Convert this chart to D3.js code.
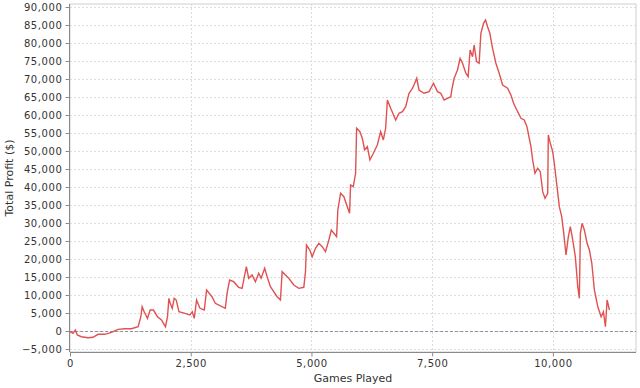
<!DOCTYPE html>
<html><head><meta charset="utf-8">
<script src="https://cdn.jsdelivr.net/npm/d3@7"></script>
<style>
html,body{margin:0;padding:0;background:#fff;}
svg text{font-family:"DejaVu Sans",sans-serif;}
</style></head>
<body><svg id="c" width="640" height="388"></svg>
<script>
const games = [0,62,110,151,234,374,477,581,720,857,996,1135,1272,1411,1467,1494,1536,1604,1660,1728,1811,1894,1977,2019,2048,2075,2117,2158,2200,2256,2380,2484,2532,2573,2621,2691,2781,2828,2940,3009,3113,3216,3252,3305,3389,3492,3563,3611,3652,3700,3770,3839,3907,3957,4032,4082,4150,4218,4289,4358,4393,4461,4530,4633,4737,4841,4876,4897,4965,5015,5084,5152,5223,5291,5360,5410,5464,5520,5546,5603,5671,5742,5789,5810,5866,5914,5935,6003,6053,6101,6157,6210,6281,6364,6433,6488,6536,6572,6640,6744,6812,6883,6951,7020,7090,7123,7180,7227,7331,7435,7526,7609,7678,7746,7817,7885,7906,7954,8024,8078,8128,8196,8244,8285,8335,8368,8418,8472,8508,8563,8605,8647,8694,8750,8819,8887,8958,9061,9130,9186,9269,9338,9406,9462,9510,9545,9580,9628,9684,9738,9788,9836,9892,9904,9946,9995,10028,10085,10132,10182,10224,10271,10319,10361,10410,10464,10514,10547,10568,10603,10651,10707,10755,10805,10858,10929,10998,11045,11087,11122,11170];
const profit = [-200,-640,280,-1110,-1580,-1860,-1750,-920,-920,-360,470,640,640,1190,3970,6750,5360,3530,5830,5830,3970,3060,1190,3970,9080,7700,6310,9080,8610,5360,4920,4440,5360,3530,8610,6310,5830,11390,9530,7700,6950,6310,10470,14170,13700,12140,11860,15080,17860,14640,15560,13700,16030,14640,17420,15080,12310,10920,9530,8610,16470,15560,14640,12780,11860,12140,16470,23890,22500,20640,22970,24360,23420,22030,25280,28060,27140,26200,33610,38250,37310,34530,32700,40560,40090,43810,56310,55370,53530,50280,51200,47510,49360,51670,55370,53060,56310,64170,61870,58620,60480,60920,62310,66030,67420,68340,70200,66950,66030,66480,68810,66480,66030,64170,64640,65090,66950,70200,72510,75760,74370,71590,70650,78060,76200,79450,74810,74370,82700,85480,86400,84530,82700,78530,74370,71590,68340,67420,65560,63250,60920,59090,58620,56750,53530,51200,47500,43810,45200,44250,38700,36860,38250,54450,52140,49810,46590,40090,34530,31750,27140,21110,26200,28970,25280,20640,12310,9080,27140,29920,28060,24360,22500,18810,11390,6750,3970,5360,1190,8610,5830];
const xTicks = [0,2500,5000,7500,10000];
const yTicks = [-5000,0,5000,10000,15000,20000,25000,30000,35000,40000,45000,50000,55000,60000,65000,70000,75000,80000,85000,90000];
const xTitle = "Games Played";
const yTitle = "Total Profit ($)";

const L=70,R=636,T=4,B=352;
const x=d3.scaleLinear().domain([0,11720]).range([L,R]);
const y=d3.scaleLinear().domain([-5830,90830]).range([B,T]);
const fmt=d3.format(",");
const svg=d3.select("#c");

svg.append("rect").attr("x",L).attr("y",T).attr("width",R-L).attr("height",B-T)
  .attr("fill","#fff").attr("stroke","#cfcfcf").attr("stroke-width",1);

// gridlines
svg.append("g").selectAll("line").data(yTicks).join("line")
  .attr("x1",L).attr("x2",R).attr("y1",d=>Math.round(y(d))+0.5).attr("y2",d=>Math.round(y(d))+0.5)
  .attr("stroke","#dcdcdc").attr("stroke-dasharray","2,2");
svg.append("g").selectAll("line").data(xTicks.slice(1)).join("line")
  .attr("y1",T).attr("y2",B).attr("x1",d=>Math.round(x(d))+0.5).attr("x2",d=>Math.round(x(d))+0.5)
  .attr("stroke","#dcdcdc").attr("stroke-dasharray","2,2");
// zero line
svg.append("line").attr("x1",L).attr("x2",R).attr("y1",Math.round(y(0))+0.5).attr("y2",Math.round(y(0))+0.5)
  .attr("stroke","#7a7a96").attr("stroke-dasharray","3,2").attr("stroke-width",0.8);

// line
const pts=games.map((g,i)=>[g,profit[i]]);
svg.append("path").datum(pts)
  .attr("d",d3.line().x(d=>x(d[0])).y(d=>y(d[1])))
  .attr("fill","none").attr("stroke","#e05252").attr("stroke-width",1.4).attr("stroke-linejoin","miter");

// axes
const ax=svg.append("g").attr("transform",`translate(0,${B+0.5})`)
  .call(d3.axisBottom(x).tickValues(xTicks).tickFormat(fmt).tickSize(4).tickPadding(3));
const ay=svg.append("g").attr("transform",`translate(${L-0.5},0)`)
  .call(d3.axisLeft(y).tickValues(yTicks).tickFormat(fmt).tickSize(4).tickPadding(3));
[ax,ay].forEach(g=>{
  g.select(".domain").attr("stroke","#8a8a8a");
  g.selectAll(".tick line").attr("stroke","#8a8a8a");
  g.selectAll("text").attr("font-size","10px").attr("fill","#333").style("letter-spacing","0.6px");
});
ay.select(".domain").attr("d",`M-4,${B}H0V${T}`).attr("d",`M0,${B}V${T}`);
ax.select(".domain").attr("d",`M${L},0H${R}`);

svg.append("text").attr("x",(L+R)/2).attr("y",382).attr("text-anchor","middle")
  .attr("font-size","11px").attr("fill","#333").text(xTitle);
svg.append("text").attr("transform",`translate(13,${(T+B)/2}) rotate(-90)`).attr("text-anchor","middle")
  .attr("font-size","11px").attr("fill","#333").text(yTitle);
</script></body></html>
